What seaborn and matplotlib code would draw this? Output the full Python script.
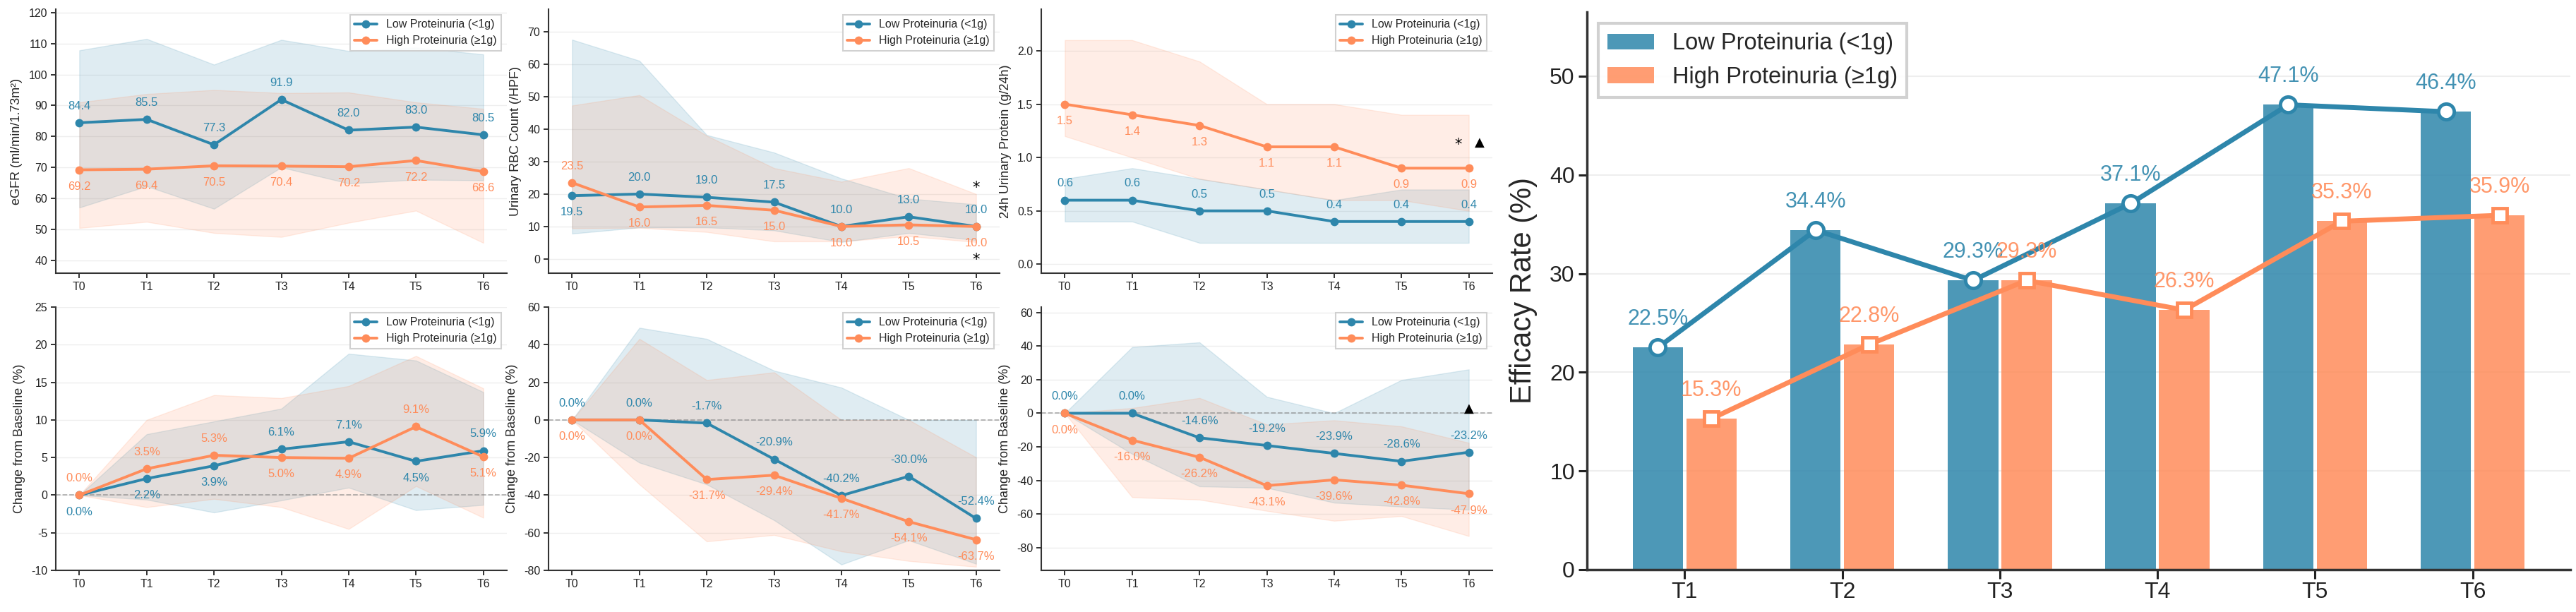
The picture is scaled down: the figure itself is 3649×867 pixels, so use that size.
# proteinuria subgroup trends: six small panels on the left, efficacy bars on the right

import numpy as np
import pandas as pd
import matplotlib
matplotlib.use('Agg')
import matplotlib.pyplot as plt
import seaborn as sns

BLUE = '#2E86AB'
ORANGE = '#FF8C5A'
LOW_NAME = 'Low Proteinuria (<1g)'
HIGH_NAME = 'High Proteinuria (≥1g)'

timepoints = ['T0', 'T1', 'T2', 'T3', 'T4', 'T5', 'T6']

# --- eGFR ---
egfr_low = [84.4, 85.5, 77.3, 91.9, 82.0, 83.0, 80.5]
egfr_high = [69.2, 69.4, 70.5, 70.4, 70.2, 72.2, 68.6]
egfr_low_lower = [57.0, 63.9, 56.6, 70.0, 64.8, 66.0, 65.8]
egfr_low_upper = [107.8, 111.5, 103.2, 111.2, 107.6, 108.7, 106.5]
egfr_high_lower = [50.4, 52.4, 48.8, 47.5, 52.1, 56.0, 45.6]
egfr_high_upper = [91.0, 93.7, 95.0, 94.0, 94.2, 91.0, 88.9]

# --- urinary RBC ---
rbc_low = [19.5, 20.0, 19.0, 17.5, 10.0, 13.0, 10.0]
rbc_high = [23.5, 16.0, 16.5, 15.0, 10.0, 10.5, 10.0]
rbc_low_lower = [7.8, 9.7, 9.7, 8.8, 5.2, 8.0, 5.8]
rbc_low_upper = [67.6, 61.1, 38.2, 32.8, 24.8, 18.6, 16.8]
rbc_high_lower = [9.4, 9.6, 8.3, 5.4, 5.4, 7.0, 5.2]
rbc_high_upper = [47.3, 50.5, 38.0, 28.0, 23.8, 28.0, 20.0]

# --- 24h urinary protein ---
prot_low = [0.6, 0.6, 0.5, 0.5, 0.4, 0.4, 0.4]
prot_high = [1.5, 1.4, 1.3, 1.1, 1.1, 0.9, 0.9]
prot_low_lower = [0.4, 0.4, 0.2, 0.2, 0.2, 0.2, 0.2]
prot_low_upper = [0.8, 0.9, 0.8, 0.7, 0.6, 0.7, 0.7]
prot_high_lower = [1.2, 1.0, 0.8, 0.7, 0.6, 0.6, 0.5]
prot_high_upper = [2.1, 2.1, 1.9, 1.5, 1.5, 1.4, 1.4]

# --- change from baseline: eGFR ---
egfr_chg_low = [0.0, 2.2, 3.9, 6.1, 7.1, 4.5, 5.9]
egfr_chg_high = [0.0, 3.5, 5.3, 5.0, 4.9, 9.1, 5.1]
egfr_chg_low_lower = [0.0, -0.6, -2.3, -0.7, 1.0, -2.0, -1.3]
egfr_chg_low_upper = [0.0, 8.1, 9.8, 11.5, 18.8, 17.9, 13.7]
egfr_chg_high_lower = [0.0, -1.6, -0.5, -1.6, -4.5, 1.2, -3.0]
egfr_chg_high_upper = [0.0, 10.0, 13.3, 12.9, 14.5, 18.5, 14.2]

# --- change from baseline: RBC ---
rbc_chg_low = [0.0, 0.0, -1.7, -20.9, -40.2, -30.0, -52.4]
rbc_chg_high = [0.0, 0.0, -31.7, -29.4, -41.7, -54.1, -63.7]
rbc_chg_low_lower = [0.0, -22.7, -34.3, -53.3, -76.9, -64.0, -76.5]
rbc_chg_low_upper = [0.0, 49.0, 43.1, 26.2, 17.2, 0.0, 0.0]
rbc_chg_high_lower = [0.0, -34.3, -64.6, -61.2, -69.9, -75.0, -78.1]
rbc_chg_high_upper = [0.0, 43.1, 21.2, 25.3, 0.0, 0.0, -19.9]

# --- change from baseline: protein ---
prot_chg_low = [0.0, 0.0, -14.6, -19.2, -23.9, -28.6, -23.2]
prot_chg_high = [0.0, -16.0, -26.2, -43.1, -39.6, -42.8, -47.9]
prot_chg_low_lower = [0.0, -24.2, -43.5, -44.4, -53.2, -55.6, -57.4]
prot_chg_low_upper = [0.0, 39.4, 42.2, 9.8, 0.0, 19.8, 26.1]
prot_chg_high_lower = [0.0, -50.0, -51.4, -58.1, -64.0, -61.2, -73.1]
prot_chg_high_upper = [0.0, 3.1, 9.1, -6.7, -4.2, -7.8, -17.6]

# significance marks (symbol, time index, y)
rbc_marks = [('*', 6.0, 22.0), ('*', 6.0, -0.2)]
prot_marks = [('*', 5.84, 1.12), ('▲', 6.16, 1.14)]
prot_chg_marks = [('▲', 6.0, 3.0)]

# --- efficacy rate ---
eff_times = ['T1', 'T2', 'T3', 'T4', 'T5', 'T6']
eff_low = [22.5, 34.4, 29.3, 37.1, 47.1, 46.4]
eff_high = [15.3, 22.8, 29.3, 26.3, 35.3, 35.9]


def trend_panel(ax, low, high, low_band, high_band, ylabel, ylim, step,
                pct=False, tie_low_top=True, baseline=False, marks=()):
    x = np.arange(len(timepoints))
    ax.fill_between(x, low_band[0], low_band[1], color=BLUE, alpha=0.15, lw=1)
    ax.fill_between(x, high_band[0], high_band[1], color=ORANGE, alpha=0.15, lw=1)
    if baseline:
        ax.axhline(0, color='gray', ls='--', lw=1.3, alpha=0.6, zorder=1)
    sns.lineplot(x=x, y=low, ax=ax, color=BLUE, marker='o', markersize=8.5,
                 markeredgewidth=0, lw=2.8, label=LOW_NAME, sort=False)
    sns.lineplot(x=x, y=high, ax=ax, color=ORANGE, marker='o', markersize=8.5,
                 markeredgewidth=0, lw=2.8, label=HIGH_NAME, sort=False)

    span = ylim[1] - ylim[0]
    fmt = '{:.1f}%' if pct else '{:.1f}'
    for i, (lo, hi) in enumerate(zip(low, high)):
        if abs(lo - hi) > 0.15 * span:
            low_top = True
        elif lo == hi:
            low_top = tie_low_top
        else:
            low_top = lo > hi
        off = 17 if low_top else -17
        ax.annotate(fmt.format(lo), (i, lo), xytext=(0, off), textcoords='offset points',
                    ha='center', va='center', color=BLUE, fontsize=12)
        ax.annotate(fmt.format(hi), (i, hi), xytext=(0, -off), textcoords='offset points',
                    ha='center', va='center', color=ORANGE, fontsize=12)

    for sym, mx, my in marks:
        ax.text(mx, my, sym, ha='center', va='center', fontsize=15 if sym == '*' else 13,
                color='black', family=['DejaVu Sans'])

    ax.set_xticks(x)
    ax.set_xticklabels(timepoints)
    ax.set_xlim(-0.35, 6.35)
    ax.set_ylim(*ylim)
    ax.yaxis.set_major_locator(plt.MultipleLocator(step))
    ax.set_ylabel(ylabel, fontsize=13, labelpad=6)
    ax.set_xlabel('')
    ax.tick_params(labelsize=11.5, length=5, width=1.3, colors='#222222')
    ax.grid(axis='y', color='#eeeeee', lw=1)
    ax.set_axisbelow(True)
    for s in ['left', 'bottom']:
        ax.spines[s].set_linewidth(1.5)
        ax.spines[s].set_color('#333333')
    sns.despine(ax=ax)
    leg = ax.legend(loc='upper right', fontsize=11.5, frameon=True, fancybox=False,
                    framealpha=0.9, edgecolor='#cccccc')
    leg.get_frame().set_linewidth(1.5)


sns.set_style('ticks')
plt.rcParams['font.family'] = ['Liberation Sans', 'DejaVu Sans']
plt.rcParams['axes.unicode_minus'] = False

W, H = 3649, 867
fig = plt.figure(figsize=(W / 100, H / 100), dpi=100)


def box(x0, y0, x1, y1):
    return [x0 / W, 1 - y1 / H, (x1 - x0) / W, (y1 - y0) / H]


lefts = [79, 777, 1475]
top_row = (13, 387)
bot_row = (435, 808)

ax1 = fig.add_axes(box(lefts[0], top_row[0], lefts[0] + 639, top_row[1]))
trend_panel(ax1, egfr_low, egfr_high, (egfr_low_lower, egfr_low_upper),
            (egfr_high_lower, egfr_high_upper), 'eGFR (ml/min/1.73m²)', (35.8, 121.1), 10)

ax2 = fig.add_axes(box(lefts[1], top_row[0], lefts[1] + 639, top_row[1]))
trend_panel(ax2, rbc_low, rbc_high, (rbc_low_lower, rbc_low_upper),
            (rbc_high_lower, rbc_high_upper), 'Urinary RBC Count (/HPF)', (-4.4, 77), 10,
            marks=rbc_marks)

ax3 = fig.add_axes(box(lefts[2], top_row[0], lefts[2] + 639, top_row[1]))
trend_panel(ax3, prot_low, prot_high, (prot_low_lower, prot_low_upper),
            (prot_high_lower, prot_high_upper), '24h Urinary Protein (g/24h)', (-0.084, 2.39), 0.5,
            marks=prot_marks)

ax4 = fig.add_axes(box(lefts[0], bot_row[0], lefts[0] + 639, bot_row[1]))
trend_panel(ax4, egfr_chg_low, egfr_chg_high, (egfr_chg_low_lower, egfr_chg_low_upper),
            (egfr_chg_high_lower, egfr_chg_high_upper), 'Change from Baseline (%)', (-10, 25), 5,
            pct=True, tie_low_top=False, baseline=True)

ax5 = fig.add_axes(box(lefts[1], bot_row[0], lefts[1] + 639, bot_row[1]))
trend_panel(ax5, rbc_chg_low, rbc_chg_high, (rbc_chg_low_lower, rbc_chg_low_upper),
            (rbc_chg_high_lower, rbc_chg_high_upper), 'Change from Baseline (%)', (-80, 60), 20,
            pct=True, baseline=True)

ax6 = fig.add_axes(box(lefts[2], bot_row[0], lefts[2] + 639, bot_row[1]))
trend_panel(ax6, prot_chg_low, prot_chg_high, (prot_chg_low_lower, prot_chg_low_upper),
            (prot_chg_high_lower, prot_chg_high_upper), 'Change from Baseline (%)', (-93.5, 63.2), 20,
            pct=True, baseline=True, marks=prot_chg_marks)

# --- right: efficacy bars with overlaid lines ---
axb = fig.add_axes(box(2248, 17, 3641, 807))
eff_df = pd.DataFrame({
    'time': eff_times * 2,
    'rate': eff_low + eff_high,
    'group': [LOW_NAME] * len(eff_times) + [HIGH_NAME] * len(eff_times),
})
sns.barplot(data=eff_df, x='time', y='rate', hue='group', ax=axb,
            palette={LOW_NAME: BLUE, HIGH_NAME: ORANGE}, hue_order=[LOW_NAME, HIGH_NAME],
            width=0.68, gap=0.06, alpha=0.85, saturation=1, linewidth=0, zorder=2)
handles, labels = axb.get_legend_handles_labels()

xb = np.arange(len(eff_times))
axb.plot(xb - 0.17, eff_low, color=BLUE, lw=5, marker='o', markersize=16,
         markerfacecolor='white', markeredgewidth=3.5, markeredgecolor=BLUE, zorder=4)
axb.plot(xb + 0.17, eff_high, color=ORANGE, lw=5, marker='s', markersize=14.5,
         markerfacecolor='white', markeredgewidth=3.5, markeredgecolor=ORANGE, zorder=4)
for i, (lo, hi) in enumerate(zip(eff_low, eff_high)):
    axb.annotate(f'{lo:.1f}%', (i - 0.17, lo), xytext=(0, 29), textcoords='offset points',
                 ha='center', va='center', color=BLUE, fontsize=22, alpha=0.9, zorder=5)
    axb.annotate(f'{hi:.1f}%', (i + 0.17, hi), xytext=(0, 29), textcoords='offset points',
                 ha='center', va='center', color=ORANGE, fontsize=22, alpha=0.9, zorder=5)

axb.set_xlim(-0.62, 5.62)
axb.set_ylim(0, 56.5)
axb.yaxis.set_major_locator(plt.MultipleLocator(10))
axb.set_xlabel('')
axb.set_ylabel('Efficacy Rate (%)', fontsize=30, labelpad=12)
axb.tick_params(labelsize=23, length=9, width=2.2, colors='#222222')
axb.grid(axis='y', color='#eeeeee', lw=1.5)
axb.set_axisbelow(True)
for s in ['left', 'bottom']:
    axb.spines[s].set_linewidth(2.5)
    axb.spines[s].set_color('#333333')
sns.despine(ax=axb)
legb = axb.legend(handles[:2], labels[:2], loc='upper left', fontsize=23.5, frameon=True,
                  fancybox=False, framealpha=0.9, edgecolor='#cccccc', borderaxespad=0.5)
legb.get_frame().set_linewidth(3)

fig.savefig('out.png', dpi=100)
